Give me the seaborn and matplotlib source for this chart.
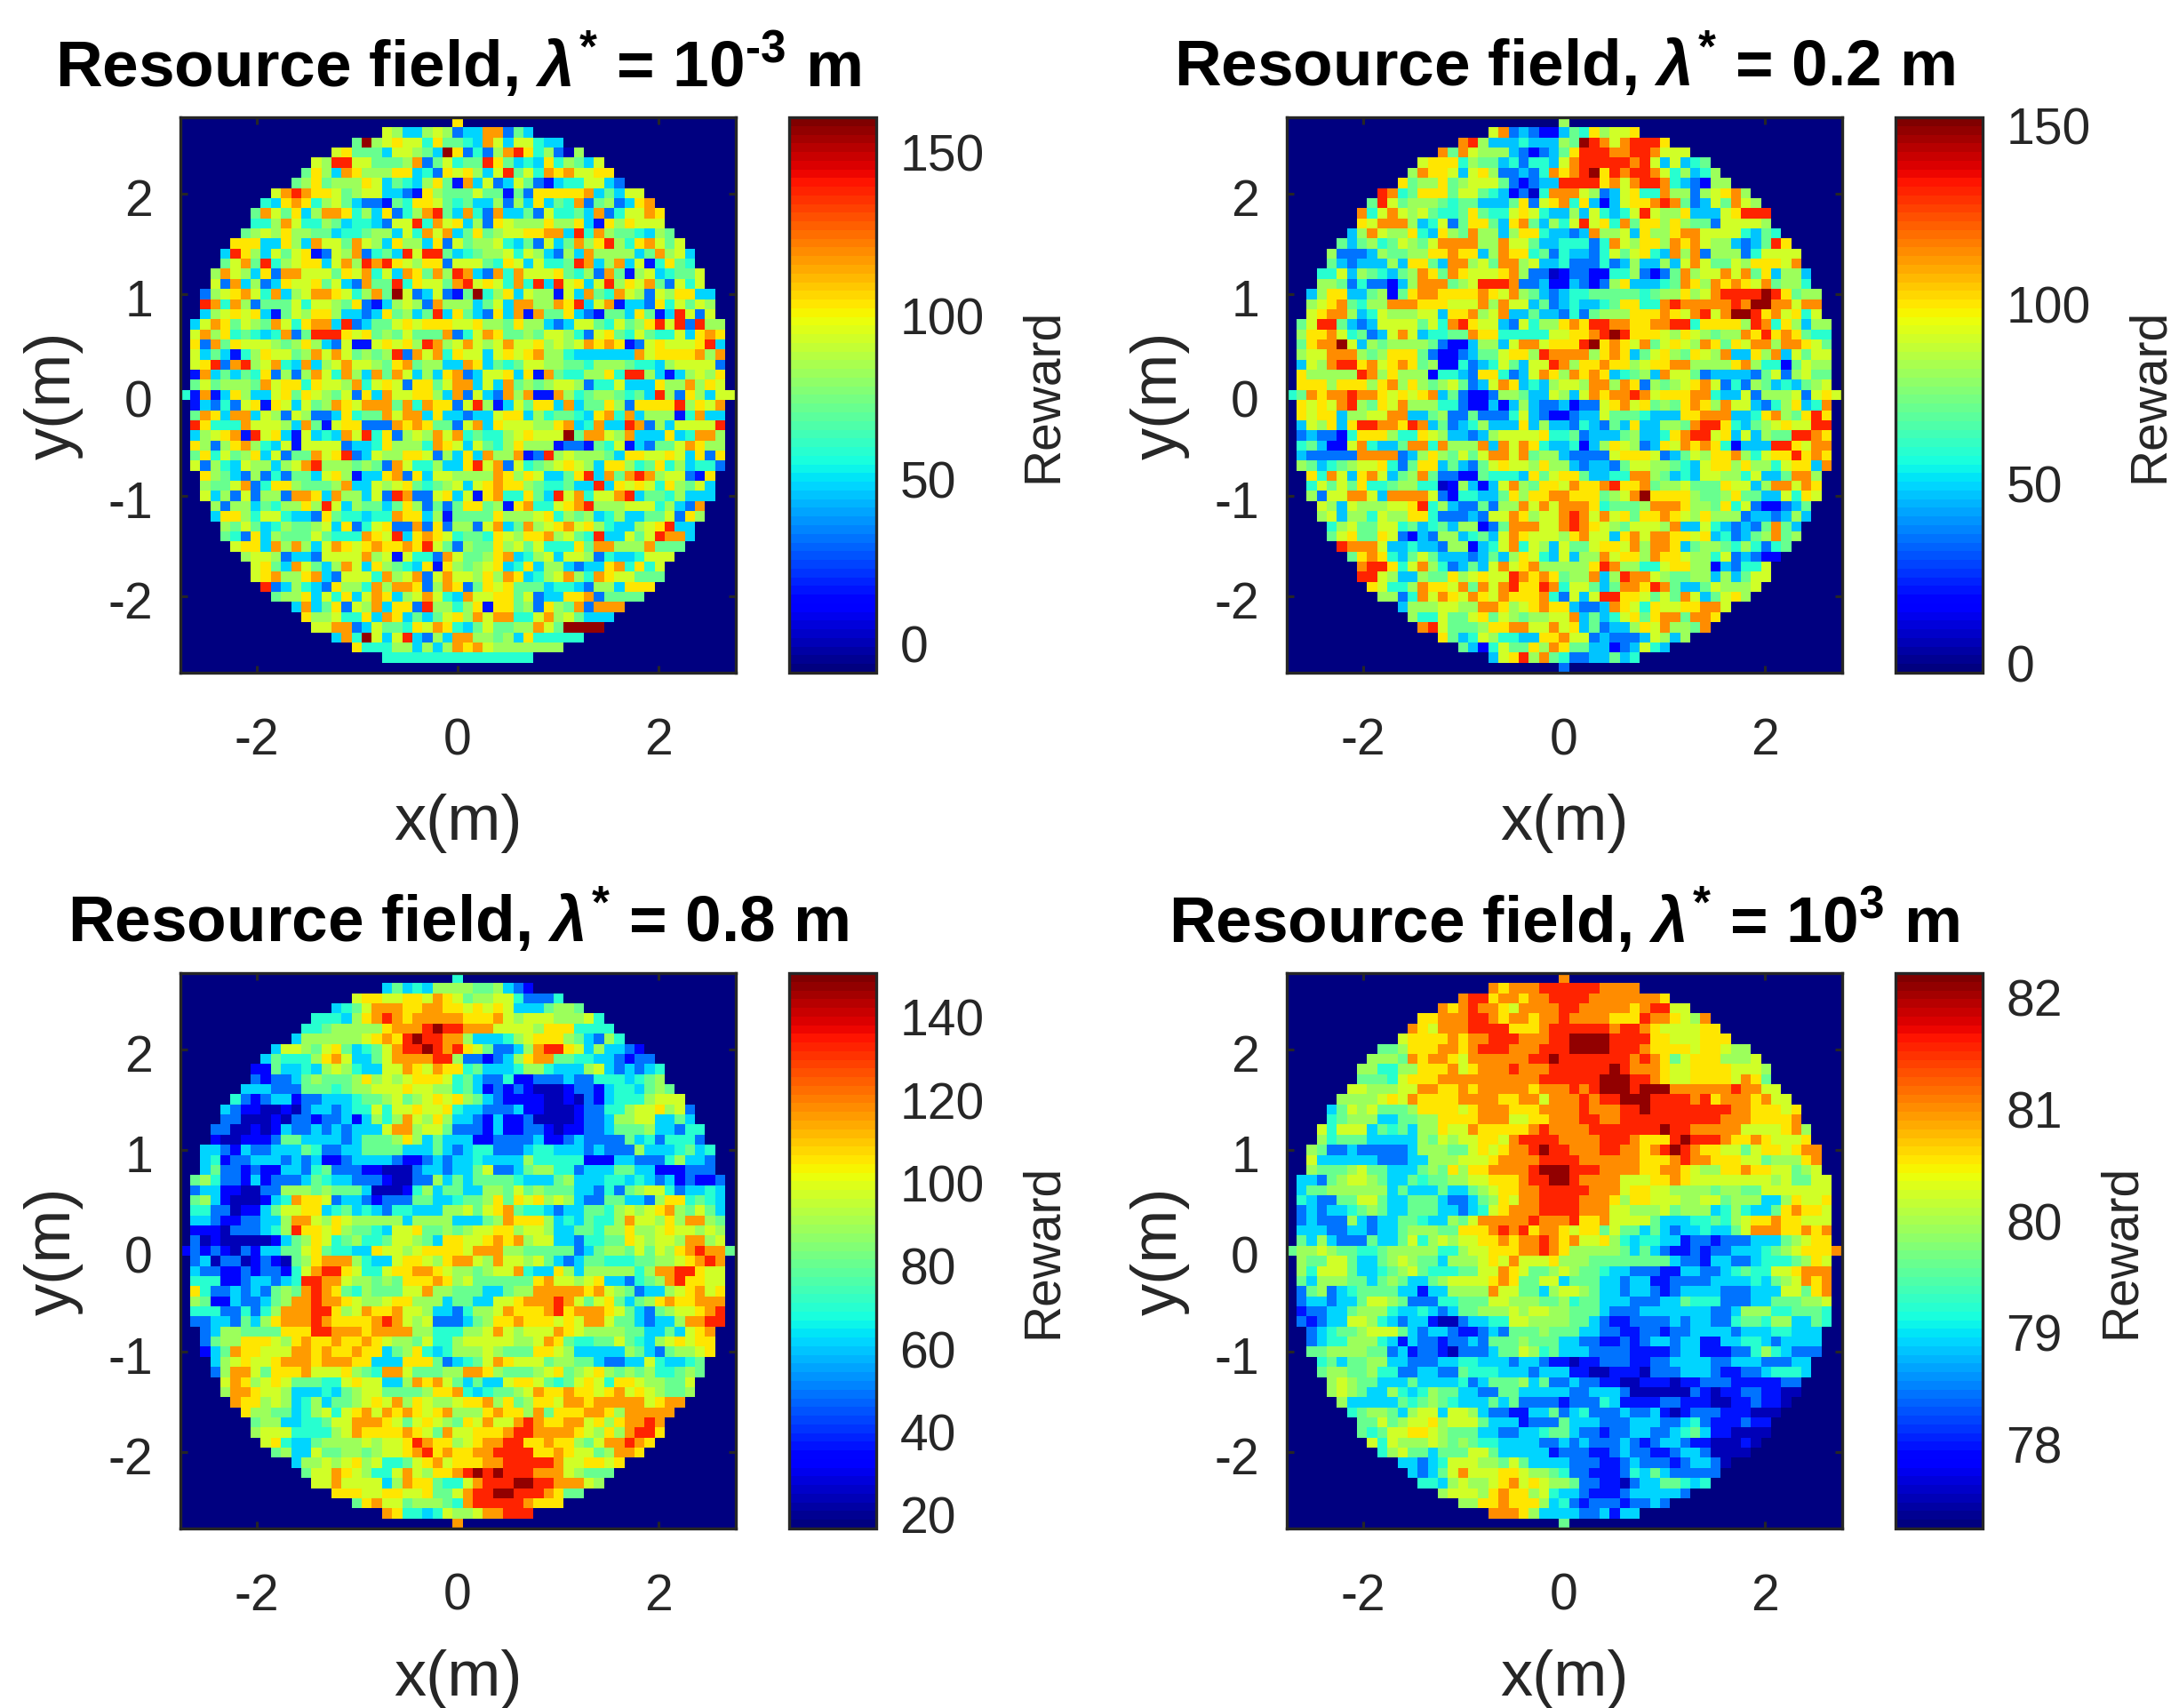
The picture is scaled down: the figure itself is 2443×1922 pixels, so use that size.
# Resource field maps for four correlation lengths, 2x2 heatmaps
import numpy as np
import matplotlib
matplotlib.use("Agg")
import matplotlib.pyplot as plt
from matplotlib.transforms import ScaledTranslation
import seaborn as sns

sns.set_theme(style="white")
plt.rcParams["font.family"] = ["Liberation Sans", "DejaVu Sans"]
plt.rcParams["mathtext.fontset"] = "custom"
plt.rcParams["mathtext.rm"] = "Liberation Sans:bold"
plt.rcParams["mathtext.it"] = "Liberation Sans:italic:bold"
plt.rcParams["mathtext.bf"] = "Liberation Sans:bold"

# The character picks an entry in the level list of that panel.
level_chars = "0123456789ab"

rows_a = [
"8",
"763367623399253",
"5b678774855439737743 3",
"7855537765 3b82 4 2 6 9 a 8 4 6 2 0 6",
"76aa7755569257455a85343 8 4 6 5 3 7 8 6",
"586398666883 4 2 8 7 8 6 3 7 a 5 7 4 9 8 9 7 7 8 8 6 4 5",
"5685666873543 6 8 5 1 9 3 7 2 3 7 5 2 1 3 4 4 7 7 3 2 4 3",
"79a98875 6 7 7 3 3 2 1 8 6 5 5 5 7 5 5 1 5 2 8 8 8 8 8 9 3 5 3 7 7 7 4 4 8",
"4 3 8 9 8 4 6 7 5 3 2 2 1 5 4 8 8 7 5 4 5 3 3 6 2 6 3 8 3 5 4 9 2 5 6 2 3 8 9 6",
"5 9 7 5 8 3 6 9 9 8 4 6 3 8 2 4 6 9 a 5 3 9 4 2 9 3 3 5 2 7 4 4 5 3 9 2 4 7 7 9 8 5 6 2",
"4 4 6 9 7 4 4 6 5 3 4 4 3 2 7 7 a 4 9 7 8 3 6 2 8 7 6 6 6 8 6 6 8 3 1 8 6 8 7 7 7",
"5 6 7 6 8 6 6 5 5 3 4 4 5 6 6 3 7 4 9 7 9 3 5 8 5 6 7 7 8 8 9 9 3 a 4 9 6 5 5 4 3 6 5",
"8 8 8 3 3 8 6 3 9 7 7 5 9 7 6 3 8 6 6 3 8 2 7 5 6 6 7 4 3 5 2 7 3 5 9 6 8 a 6 4 8 9 7 5 7",
"3 a 8 6 3 7 5 7 8 1 2 7 6 9 2 4 5 3 a 7 a a 5 3 4 5 6 6 7 4 7 6 3 2 6 3 9 6 6 6 6 3 5 9 6 7 3",
"5 7 9 5 a 4 6 7 8 8 3 7 9 6 a 9 a 8 7 6 8 8 2 7 7 7 5 4 8 7 3 7 4 4 5 a 9 3 6 9 3 7 1 4 8 5 4",
"6 9 7 6 3 8 2 9 9 7 7 7 5 8 7 9 4 7 3 9 8 5 9 6 a 9 3 2 9 4 9 7 7 7 8 5 4 6 2 9 5 1 6 7 3 4 5 5 7",
"7 2 9 3 6 2 3 8 7 7 8 5 7 3 2 9 5 5 a 4 8 7 7 5 9 a 7 8 7 4 9 4 a 3 a 7 8 3 7 a 6 8 7 9 5 2 7 4 7",
"2 6 7 8 9 7 4 9 3 6 7 9 9 8 7 4 6 9 5 b 7 2 3 7 2 1 5 b 4 6 8 3 7 6 6 1 7 3 9 5 4 9 7 6 2 7 6 8 8 3 3",
"a 9 4 9 6 2 5 5 5 7 4 7 7 6 5 8 2 1 3 6 7 6 2 9 6 6 6 3 5 7 3 9 9 6 6 9 8 a 3 7 9 1 3 3 2 8 4 7 5 7 6",
"3 6 7 8 7 8 3 1 5 7 6 8 8 6 3 3 2 3 8 5 6 3 5 a 3 8 5 3 2 8 3 9 1 9 5 5 8 3 2 1 5 5 3 8 5 1 3 a 7 2 7",
"3 7 9 8 5 7 6 5 9 7 4 8 9 9 3 a 2 3 5 5 7 8 7 8 8 8 7 7 8 6 6 5 8 6 6 3 2 3 7 7 5 4 7 5 6 8 a 7 a 2 a 6 6",
"7 9 6 8 4 5 4 3 4 9 2 5 a a a 8 7 8 5 6 5 7 5 5 5 9 2 4 7 9 8 5 5 6 5 7 7 6 4 2 7 8 5 4 7 5 4 4 7 3 8 9 8",
"8 2 9 5 8 7 7 7 6 5 6 8 6 3 2 7 1 1 7 8 7 8 6 a 9 6 7 9 7 6 7 9 7 7 8 6 7 6 7 9 8 9 8 1 2 7 8 7 7 7 8 a 3",
"7 3 5 3 1 4 6 8 7 7 5 6 9 7 9 7 5 6 5 6 a 2 9 7 9 4 8 7 7 3 7 8 7 8 9 6 6 4 3 3 3 3 3 3 9 7 8 8 8 8 9 6 9",
"7 8 a 2 9 a 6 7 9 4 3 9 3 6 7 9 7 7 6 5 8 9 5 6 6 3 3 9 8 3 5 4 5 7 7 6 6 5 5 4 6 6 6 5 4 4 3 6 7 7 7 7 2",
"1 9 3 5 3 5 4 8 2 6 2 6 9 7 4 9 6 3 9 5 9 7 3 6 3 8 9 2 3 7 7 8 3 8 1 9 5 4 4 6 6 8 4 a a 6 3 1 3 6 7 6 8",
"5 7 5 6 6 6 5 9 7 8 8 4 8 7 7 6 9 4 7 8 7 2 8 8 5 7 9 9 3 7 3 9 5 6 5 6 7 7 6 2 4 4 7 3 3 3 8 6 6 9 6 8 7",
"4 1 9 1 3 8 6 3 3 7 8 5 8 7 6 5 7 2 8 3 9 7 7 8 8 6 3 9 2 7 3 2 9 6 9 1 1 9 6 4 5 6 6 5 4 5 3 a 6 2 8 6 3 7",
"1 3 2 4 2 7 8 1 8 7 3 7 5 6 9 8 7 9 9 9 5 9 4 9 8 8 2 7 a 6 1 3 7 5 8 8 3 9 3 5 5 8 6 2 8 8 8 8 a 6 8 7 9 8 7",
"5 9 8 3 9 9 3 7 6 2 7 6 2 2 3 8 4 5 5 9 7 9 9 3 8 3 3 2 3 3 7 8 8 3 6 4 5 5 4 3 8 9 4 9 3 6 6 6 1 4 9 3 3",
"a 8 4 4 4 9 7 7 7 6 3 9 5 1 7 8 8 2 2 2 9 8 9 8 5 5 2 7 9 3 8 7 7 7 6 6 8 9 3 4 9 3 3 a 9 2 6 3 7 7 7 7 a",
"3 6 7 8 9 1 a 7 8 3 1 7 3 4 3 9 7 a 4 8 2 6 7 6 9 7 9 4 5 4 4 6 7 8 7 7 7 b 5 9 9 7 6 9 3 3 3 8 3 4 9 9 6",
"8 6 2 6 8 9 6 4 3 7 1 7 7 7 7 2 3 3 4 8 6 6 6 4 9 8 7 3 7 5 4 6 8 6 6 6 1 2 2 1 5 4 7 1 3 2 5 5 7 9 8 6 6 6 9",
"5 8 4 7 5 6 8 3 7 2 5 5 9 7 8 a 2 3 7 6 6 8 8 7 2 6 3 8 3 9 6 6 9 1 2 a 6 7 6 6 6 5 3 8 8 7 7 8 7 3 8 2 8",
"7 2 6 4 3 7 6 6 3 6 7 9 a 6 6 6 5 6 5 2 9 7 4 4 6 3 3 8 a 7 9 2 7 4 5 6 7 8 7 6 3 8 8 6 4 5 8 4 6 3 4 4 2",
"8 6 5 3 2 6 2 4 2 5 5 3 7 8 6 1 3 3 8 9 2 8 3 7 7 6 6 6 6 9 8 6 8 7 3 3 5 8 a 3 9 5 9 a 9 6 7 7 2 1 8 9 a 3",
"6 5 5 7 9 2 4 8 8 6 5 5 5 6 9 3 3 7 6 7 8 5 4 5 6 7 3 7 8 9 8 8 6 5 4 4 5 3 3 a 3 8 7 8 7 4 8 6 5 7 3",
"7 3 6 2 7 2 6 6 2 9 9 8 3 9 6 6 3 7 2 a 9 2 2 7 8 3 7 1 8 9 4 4 8 5 3 a 7 9 4 7 7 9 a 3 5 5 4 6 3",
"6 2 6 6 3 5 4 6 6 8 6 a 7 3 6 5 5 3 5 8 6 2 5 2 5 8 8 5 6 1 8 9 4 4 7 8 9 a 6 6 6 7 7 7 4 6 3 2 9 8 3",
"3 8 8 6 4 7 7 4 3 3 2 8 5 4 4 3 4 4 9 8 8 3 6 1 5 5 5 5 8 6 6 6 7 8 4 6 5 6 3 4 6 3 3 5 5 7 2 8 6 8 5",
"6 5 7 5 3 4 6 5 5 6 7 3 8 2 4 7 8 2 2 9 2 8 2 6 6 2 7 9 3 5 9 6 7 8 9 7 8 6 4 3 3 6 7 8 a 3 3",
"5 4 2 8 3 6 5 5 5 7 5 4 4 4 9 8 7 a 3 8 9 8 7 4 5 5 4 8 7 6 8 8 9 6 7 5 4 a 3 3 7 5 7 a 9 9 3",
"7 8 8 3 9 6 9 6 3 7 9 8 7 8 9 8 8 9 8 a 7 5 2 6 5 5 8 6 7 5 7 4 4 4 8 5 9 9 6 6 6 9 5",
"6 7 7 6 2 3 3 2 7 7 7 7 9 6 7 1 7 4 4 2 9 7 5 5 6 8 9 3 4 6 7 3 7 7 6 2 4 3 3 4 7",
"7 8 5 3 9 7 5 3 6 9 7 3 8 6 5 4 3 8 1 8 6 5 6 7 8 3 4 8 3 6 6 3 2 3 3 8 9 4 8 4 7",
"7 8 9 6 6 8 9 3 2 7 7 7 4 9 6 7 9 2 7 9 7 7 6 8 6 9 8 3 4 6 7 9 6 4 9 8 7 7 5",
"a 2 3 6 4 3 2 8 6 6 4 9 6 9 9 8 2 6 9 8 2 5 8 7 8 5 5 5 3 4 4 3 2 6 6 3 8",
"5 6 6 8 3 7 4 8 3 7 9 8 3 6 7 9 7 4 3 9 7 7 8 8 5 7 2 3 3 8 8 9 2 5",
"3 9 3 5 8 2 7 6 9 3 8 8 2 a 6 6 4 6 8 1 8 8 5 6 2 8 6 5 9 2 9",
"8 6 6 7 4 4 8 3 9 8 3 5 3 5 7 8 6 9 7 9 9 4 4 7 9 6 7 5 3",
"7 7 9 9 2 3 7 5 5 4 8 7 9 8 4 3 5 7 5 5 6 6 9 7 5 b",
"3 9 4 b 7 3 7 a 3 2 6 3 9 9 6 6 5 6 3 8 4",
"8 4 4 4 6 6 3 6 3 6 9 8 9 7 6",
"4",
]

rows_b = [
"6",
"792321135486778",
"9a6333433365ba979aaa8",
"95976663212358aaa99aa97777",
"7 8 8 8 4 6 5 5 3 4 2 4 4 3 7 9 a a a a a 9 a 7 3 7 3 4 5 5 5",
"6 9 8 8 7 3 7 8 6 2 2 3 2 4 9 8 9 a b 8 a 9 a a 9 7 4 6 3 4 6 3",
"8 5 6 6 8 5 6 7 7 7 5 2 1 2 3 3 a a a a 8 9 7 9 a a 9 4 3 2 1 6 6 7",
"a 9 4 5 8 8 8 5 7 7 5 4 3 1 2 0 4 9 9 9 7 6 2 3 7 8 4 4 9 6 6 2 6 7 8 9 6",
"5 a 7 5 6 6 6 5 4 5 5 3 3 3 5 8 2 7 8 9 4 8 3 1 3 7 8 8 9 a 9 5 2 3 7 5 9 7 6",
"9 4 7 9 7 6 7 5 4 4 5 8 5 4 4 7 8 7 4 3 3 6 3 7 4 3 4 7 a 7 6 6 8 3 3 3 7 8 a a a",
"8 7 9 9 9 6 3 4 7 2 5 8 8 5 3 8 9 5 3 6 4 7 a 7 8 4 9 5 8 8 6 8 6 5 5 2 7 7 7 7 6 8",
"3 6 9 7 6 6 8 4 3 8 6 5 9 6 6 3 6 8 8 4 3 3 2 3 9 6 6 7 3 8 6 6 8 9 9 7 7 7 7 4 3 5 4",
"5 3 5 6 4 5 7 6 5 7 9 9 9 9 6 6 9 7 7 5 3 3 4 4 4 2 4 9 7 6 8 8 6 9 8 9 7 6 6 3 2 3 5 a 8",
"6 2 2 2 3 6 5 5 6 6 8 8 9 8 8 3 6 9 8 8 4 5 2 4 3 3 2 4 7 5 7 8 4 3 9 6 9 2 6 6 6 2 4 7 7 7 7",
"5 3 2 3 3 3 6 3 8 8 5 3 9 9 6 7 5 9 9 6 7 3 3 4 2 2 2 4 2 3 6 3 3 6 3 7 9 7 5 5 7 6 8 8 8 7 9",
"4 4 7 3 6 5 4 3 5 6 9 8 5 9 8 7 7 7 8 9 6 2 2 0 1 2 2 1 1 4 4 6 2 1 2 5 9 6 7 7 9 7 9 5 8 3 6 6 3",
"6 6 5 2 4 2 2 1 3 6 9 9 9 5 6 7 a a a 9 2 2 3 1 1 3 2 1 2 6 8 3 3 3 4 5 9 8 6 9 8 9 8 7 9 5 6 6 4",
"3 6 8 8 3 3 5 6 1 5 8 9 9 8 8 8 8 9 8 7 9 6 5 3 2 3 4 4 5 5 5 5 5 4 5 6 6 8 6 7 9 a a a a b a 8 5 6 6 6",
"6 7 8 9 5 4 6 6 9 9 9 8 8 8 7 7 7 9 6 9 7 7 3 5 2 3 4 3 3 4 5 8 8 4 4 9 a 9 9 9 9 9 a 9 b b 9 9 7 9 9 6",
"7 8 9 9 6 3 4 7 6 6 6 7 7 3 8 8 9 6 7 9 3 3 5 3 3 2 4 2 5 6 6 6 8 8 8 9 8 7 9 a 7 9 b b a 8 9 7 8 4 7",
"5 7 a a 5 3 2 3 7 7 7 7 5 7 4 9 a 8 7 7 3 2 7 4 6 6 8 9 8 a a 9 9 8 8 9 9 a a 4 8 8 8 8 6 a 9 4 8 6 3 6 6",
"6 8 8 9 7 4 5 2 3 7 9 7 3 4 4 5 5 9 8 8 4 4 4 4 4 7 7 8 8 9 a b a 8 8 8 7 6 8 7 6 5 6 6 9 8 a 8 9 8 5 4 4",
"5 8 9 9 b 7 3 6 5 6 6 6 6 5 2 1 1 3 6 6 3 7 9 9 7 8 8 8 a b 8 9 8 7 9 5 7 8 7 6 9 8 5 8 7 9 9 6 9 9 8 7 5",
"6 7 7 9 9 9 6 5 6 8 8 8 5 2 1 1 2 3 5 5 7 8 8 6 a 9 9 9 9 6 8 9 8 3 5 7 8 6 5 8 7 6 9 3 3 8 6 9 3 7 5 7",
"3 7 6 9 a a 8 9 7 8 9 8 5 6 1 1 4 2 3 4 7 5 3 7 7 a 9 6 8 8 9 8 8 6 7 8 8 9 9 6 6 6 6 8 9 6 4 4 1 5 7 6",
"8 6 6 6 6 6 a 9 6 8 6 6 6 1 4 4 3 2 8 8 4 2 3 7 9 8 6 9 8 9 8 3 4 5 6 3 9 7 7 5 2 3 3 3 3 2 5 7 2 6 7 5 5",
"8 8 8 6 8 8 8 6 8 9 6 8 6 5 6 7 5 2 3 7 9 8 3 4 3 6 7 7 6 9 9 6 9 8 2 6 5 6 7 8 9 7 2 4 2 6 5 3 4 3 5 6 7",
"4 5 9 8 9 9 a 9 9 8 7 8 7 8 9 3 5 2 1 1 2 6 6 5 3 3 7 6 3 7 9 8 9 9 a 9 7 8 8 8 9 9 4 3 3 7 2 6 6 6 7 2 7 8 7",
"8 7 8 7 9 a 6 5 8 7 9 6 6 6 4 4 2 1 1 3 1 3 6 3 2 2 3 1 2 2 7 8 9 7 8 5 6 5 8 9 8 6 9 7 7 3 2 4 6 8 3 4 9 8 8",
"8 7 8 8 3 6 6 7 7 9 9 3 3 5 6 2 2 5 2 2 2 4 7 3 2 1 1 2 3 3 7 5 5 5 4 3 3 3 8 8 9 9 9 3 3 4 8 9 6 5 8 a 8 8 9",
"3 7 6 8 3 8 a a 9 9 8 a 9 3 5 2 3 4 6 3 3 3 8 3 6 3 3 2 4 3 2 5 3 8 3 3 6 6 5 9 a a 8 4 3 5 6 7 8 7 7 a a 6 6",
"2 3 2 2 1 4 8 8 8 6 4 4 8 7 6 3 3 2 3 6 7 7 7 7 8 4 4 5 2 3 3 3 5 6 3 3 4 8 9 a a 7 8 3 7 3 6 5 5 a a 9 8",
"4 5 3 1 1 7 9 4 3 3 5 9 9 4 9 6 6 6 9 3 9 7 9 8 4 3 3 4 1 3 6 8 7 6 2 3 8 7 9 8 9 8 4 1 3 3 3 a a 8 7 9",
"3 2 2 2 2 2 9 9 9 9 2 3 6 8 6 5 7 5 7 9 9 7 9 5 6 6 3 2 2 2 2 7 8 8 8 7 2 3 5 7 6 8 8 9 6 4 7 8 8 a 8 9 8",
"6 5 3 4 5 6 7 7 8 4 2 5 8 8 3 5 3 2 5 7 8 7 7 6 8 6 6 3 2 3 3 2 5 7 7 6 6 5 4 3 7 8 8 6 8 6 6 4 7 8 8 3 9 a a 9",
"8 4 9 7 3 8 9 7 3 5 6 9 5 2 2 1 1 5 4 4 4 3 8 5 7 8 8 5 3 3 4 4 9 9 6 5 3 4 3 7 7 6 6 4 7 3 3 5 9 9 6 8 8 6",
"4 7 5 7 5 8 4 4 5 6 6 4 4 0 1 6 3 1 3 7 9 6 5 8 8 7 9 8 8 9 a 8 8 9 5 6 6 7 5 5 5 8 7 7 3 6 9 9 7 9 8 5",
"6 2 7 7 9 9 7 3 9 9 9 9 7 2 1 4 4 3 3 5 8 6 8 8 9 9 8 8 8 5 6 7 9 b 8 8 8 8 6 5 5 6 8 5 5 3 3 7 4 8 7 8",
"7 6 3 7 6 6 6 7 7 8 a 4 6 3 2 2 5 2 6 6 9 7 9 7 9 9 9 8 4 5 5 5 6 9 9 9 8 6 6 5 8 4 7 2 1 1 2 3 5 5 6",
"6 7 3 6 6 4 7 6 6 8 8 4 2 2 2 3 2 7 7 9 8 6 7 7 9 a 9 7 9 7 8 5 8 8 9 8 7 6 8 6 6 6 2 3 3 2 3 6 3",
"4 6 7 5 5 7 7 4 5 3 4 5 3 6 6 1 2 5 9 9 9 7 7 9 a 9 8 7 6 5 7 7 7 6 9 3 3 7 4 3 2 3 2 5 9 5 3",
"5 7 8 5 5 8 7 2 1 3 2 6 6 3 4 5 3 7 9 8 7 7 7 6 8 9 7 7 3 8 9 7 9 9 8 8 7 8 3 4 2 3 5 6 9 5 6",
"a 9 9 9 7 3 3 4 3 3 2 6 6 1 3 4 7 9 4 7 6 3 7 5 5 7 8 8 7 9 6 9 9 8 3 5 6 6 5 4 6 4 2 4 5",
"5 8 9 8 4 3 5 7 5 3 3 3 2 3 5 3 6 8 7 4 3 7 3 6 6 9 7 8 8 6 9 8 8 7 6 6 4 7 2 3 2 1 1",
"9 a a 8 4 7 9 6 4 2 3 5 3 7 9 7 8 9 6 6 6 6 6 8 a 9 6 6 4 4 7 8 8 6 6 1 3 2 4 4 7",
"a a 7 6 3 3 6 5 5 8 6 7 8 7 7 a 9 8 9 8 5 6 6 9 3 6 a 9 9 7 6 5 5 6 6 3 6 3 5 7 7 8",
"8 7 4 4 6 9 8 8 7 9 5 9 7 9 a 8 8 a 9 4 7 7 5 3 5 9 9 8 a 9 5 3 3 5 7 6 6 6 7",
"6 6 2 4 9 7 9 8 7 9 8 7 9 8 8 8 9 4 2 7 3 7 a a 8 8 7 5 7 5 9 7 3 5 7 8 6",
"3 6 6 6 7 7 6 6 9 9 8 6 7 8 9 8 8 3 2 2 3 9 8 7 4 8 7 7 8 8 9 9 7 6",
"6 4 4 7 5 5 7 8 5 7 6 5 6 6 7 7 9 3 5 3 4 7 8 5 8 9 9 5 9 9 8",
"9 a 7 5 5 5 6 8 8 9 9 7 7 9 7 8 3 5 2 3 3 6 8 7 9 6 6 5 9",
"8 5 3 4 7 6 4 4 3 3 8 8 9 7 7 2 3 2 2 2 3 7 6 3 6 6 8",
"5 3 1 4 7 5 5 8 6 9 8 5 5 3 3 1 2 3 7 4 3",
"3 7 8 a 6 9 5 4 2 2 3 3 5 3 4",
"2",
]

rows_c = [
"4",
"353436666556321",
"788778879875667742224",
"3457999889 9 8 8 7 8 7 8 7 3 3 3 5 6 6 5",
"4 4 4 3 6 8 9 a 9 8 9 9 9 9 9 8 8 8 9 7 6 7 7 7 6 6 6 7 4 7",
"4 4 5 6 6 6 6 6 8 9 9 9 a b a a 9 9 9 7 7 7 7 6 8 8 8 4 4 4 4 7 4",
"3 6 6 6 6 6 6 7 8 9 8 a b a a 9 9 6 3 3 3 4 6 7 8 8 8 6 5 3 2 6 4 3",
"3 7 7 6 5 7 8 5 3 4 5 7 9 a a b a 9 a 8 7 5 2 2 3 6 9 a a 8 7 3 6 3 3 2 1 1 3",
"3 5 4 4 4 6 8 9 7 3 3 5 7 9 9 9 9 a a 6 2 2 1 2 3 6 8 9 9 5 5 4 4 3 3 2 1 2 2 2",
"1 1 5 3 3 4 3 6 7 6 4 3 3 7 7 9 8 7 9 8 8 4 5 3 3 3 4 6 6 4 3 3 3 6 7 3 2 3 2 3 4",
"2 1 2 2 3 5 6 5 5 5 6 8 6 7 6 7 8 8 8 7 4 5 3 2 2 4 1 1 2 2 2 3 2 2 4 4 4 3 4 5 6",
"3 3 3 2 2 2 5 5 5 4 5 6 6 7 7 7 8 7 7 6 6 4 5 3 1 2 1 2 1 0 0 0 1 2 2 1 3 4 4 3 5 6 5 3 3",
"4 2 1 2 3 3 1 2 2 3 3 3 4 5 5 6 7 5 6 7 8 7 8 6 5 3 2 1 1 1 1 0 0 1 0 2 1 3 4 4 4 6 7 7 7 4 3 4",
"3 2 1 1 0 0 1 0 2 3 3 2 3 4 4 7 4 7 7 8 7 7 8 4 3 3 2 2 2 3 1 1 0 0 0 1 2 2 4 4 6 7 7 8 6 7 2 2 5 5",
"2 2 0 0 0 1 0 2 2 1 2 2 3 1 3 6 4 6 9 7 6 8 6 3 3 2 1 3 1 1 2 0 0 0 0 1 2 2 3 6 6 7 7 3 3 5 3 2 3 8",
"2 2 0 0 1 0 1 3 2 2 3 2 3 2 3 3 3 7 9 9 6 7 7 5 2 2 2 1 3 1 1 2 2 1 0 1 1 2 2 3 5 5 5 6 3 3 2 4 4 2 7 7",
"1 0 0 1 1 1 2 5 5 3 3 3 3 2 3 5 5 5 6 8 6 3 5 3 3 3 1 1 2 2 2 2 3 1 1 2 3 2 2 2 2 5 3 4 2 4 4 4 2 2 6 7",
"3 3 2 1 3 2 2 3 3 3 5 4 2 2 3 3 5 5 5 5 3 3 3 5 3 2 3 4 4 2 2 2 3 4 4 3 3 3 2 3 2 2 2 6 3 3 3 4 5 3 4 4 6 5",
"3 4 1 2 2 3 3 3 2 3 2 3 1 1 2 3 3 3 3 2 1 1 2 3 2 3 3 4 3 3 3 3 6 4 4 4 4 4 1 1 1 3 3 2 2 2 4 6 3 3 2 4 3 3 3",
"3 5 2 2 1 2 1 1 3 3 2 4 5 2 2 2 1 1 0 0 0 2 3 3 2 3 3 5 7 2 2 3 5 6 6 4 4 2 3 3 3 5 5 3 3 1 1 1 2 2 2 2",
"5 6 4 2 2 1 3 1 2 2 2 3 5 4 3 3 2 2 2 1 0 0 2 2 6 3 5 3 5 5 5 5 4 3 3 3 5 6 3 3 3 4 4 3 4 3 2 3 1 2 1 1 2 3 3",
"2 3 3 1 1 0 0 2 2 6 6 6 5 6 5 5 5 3 0 0 0 1 4 6 3 5 5 3 3 6 6 5 7 5 6 5 5 5 3 3 2 4 2 5 6 7 7 4 2 3 3 4 3",
"5 6 3 1 0 0 0 1 3 4 9 8 8 7 2 3 3 2 1 2 2 2 5 5 3 3 4 5 5 6 8 5 8 7 8 6 7 6 3 2 2 5 5 3 3 2 6 8 8 4 5 4 3 4 4",
"4 4 2 2 0 1 1 3 5 7 7 8 8 3 4 5 3 4 3 2 4 4 3 3 3 6 6 7 5 7 8 9 5 4 4 3 2 3 3 5 5 4 6 7 6 7 8 9 6 5 7 5 3 4 5",
"3 3 2 1 1 2 2 3 3 6 9 9 7 6 8 7 6 6 6 6 6 3 6 6 6 6 3 3 3 5 6 9 8 8 8 6 3 4 3 5 4 4 6 9 7 7 6 8 6 9 9 6 5 7",
"1 1 1 0 2 2 2 3 4 6 a 8 8 7 8 6 5 5 4 3 7 7 8 5 5 6 5 6 7 7 8 8 6 7 7 6 3 3 5 5 4 6 6 8 6 6 7 8 7 7 6 7 6",
"2 0 1 0 0 0 0 0 1 3 5 6 8 7 4 5 6 4 4 5 7 7 6 5 3 8 8 7 7 8 9 8 9 6 7 7 3 3 2 4 4 5 5 8 7 6 7 7 6 9 9 6 7 7 5",
"1 2 1 2 1 0 2 1 3 3 5 5 7 8 5 4 4 3 3 8 7 7 6 7 8 8 8 8 7 9 9 9 6 6 5 5 5 5 5 2 3 5 6 6 5 7 5 7 6 8 9 a 9 9 5",
"2 3 0 2 2 0 1 2 1 0 5 6 8 9 9 9 6 4 3 3 7 8 8 7 6 8 9 9 7 6 9 7 7 6 7 5 3 2 3 5 5 4 4 4 5 5 6 6 7 8 9 a 9 9 7",
"3 2 2 1 1 2 1 2 2 1 4 7 9 a a 8 7 4 4 7 8 8 9 9 8 7 6 6 5 6 7 7 9 4 3 3 8 6 3 6 6 6 6 6 4 6 9 9 a a 8 7 7",
"4 4 4 1 1 2 3 3 2 3 4 a a 9 9 7 6 6 5 6 5 8 8 8 9 8 6 7 5 5 5 5 5 5 8 9 7 7 6 7 8 3 3 2 4 5 6 9 a 8 8 7 7",
"8 4 2 2 3 2 3 2 5 6 5 9 a 9 8 5 4 6 5 5 5 7 7 9 6 6 5 5 5 3 3 5 6 6 9 9 9 9 9 8 9 7 6 5 2 3 3 6 7 8 9 7 8 8",
"6 5 1 1 3 2 2 3 5 6 9 9 a 9 9 8 7 6 6 7 8 8 6 6 6 3 5 5 3 3 7 7 8 9 9 9 a 9 7 5 7 8 5 3 5 6 8 9 8 8 9 9",
"4 4 4 2 2 4 2 4 6 9 9 9 a a 8 6 7 9 8 8 9 7 7 6 3 3 2 4 6 6 7 9 8 8 8 9 a 8 9 9 9 8 7 5 3 2 5 6 7 7 8 9 a 9",
"2 2 3 3 2 5 3 6 8 9 9 9 a 9 8 8 8 8 9 a 9 7 6 7 2 2 2 3 5 6 8 8 9 8 8 8 7 8 7 9 9 7 5 5 3 2 3 3 6 9 9 a",
"2 3 6 6 5 5 5 5 8 8 8 a a 9 9 9 8 9 9 9 9 6 6 4 4 4 6 6 7 9 7 6 7 7 7 9 8 7 6 6 6 6 5 5 3 3 5 3 7 8 9",
"2 5 6 6 8 8 8 7 6 8 9 8 8 9 8 8 9 8 7 6 6 5 7 4 4 6 7 7 7 7 7 6 6 7 9 8 5 4 4 5 5 7 5 4 3 6 7 8 7 8 8",
"1 3 5 9 8 8 7 7 7 9 9 8 9 8 8 9 8 8 3 5 6 8 4 3 4 6 6 6 7 6 5 5 5 8 8 7 6 3 3 3 3 3 6 5 3 2 5 6 6 7 8",
"3 6 7 8 7 7 8 9 9 9 8 9 9 9 8 8 3 3 3 8 8 8 5 2 3 4 5 7 9 8 7 7 7 5 6 6 5 5 3 2 2 3 3 7 4 3 3 4 5",
"2 6 9 9 7 5 8 8 8 9 7 7 7 8 6 5 4 9 9 7 5 5 5 6 6 9 9 8 6 5 5 5 6 7 8 5 6 7 8 6 5 6 5 6 4 4 5 6 5",
"7 9 8 6 7 8 7 5 5 5 4 4 7 8 7 7 3 3 6 9 8 9 7 5 3 5 3 3 7 8 8 7 5 4 5 7 8 7 4 8 8 7 6 6 5 5 7",
"6 9 9 8 7 7 6 3 3 3 4 3 5 6 7 7 5 5 5 5 6 8 8 9 4 3 4 5 5 6 7 9 8 8 9 8 8 7 8 9 7 8 7 6 5 5 6",
"9 8 8 6 7 6 3 4 6 3 5 5 6 7 8 7 9 6 8 7 6 6 7 8 8 9 6 8 5 6 8 8 7 9 9 8 9 9 9 9 9 7 8 9 9",
"8 6 6 5 5 3 4 6 7 4 7 8 9 7 9 8 9 8 7 8 9 6 6 6 8 9 8 8 6 9 5 8 8 8 9 9 8 6 9 9 9 9 9",
"5 6 6 3 3 4 4 5 7 7 9 9 9 8 7 5 7 8 7 6 5 8 7 9 7 7 9 a 9 8 8 9 9 7 8 6 8 9 9 a 9 8 9",
"6 7 7 7 4 4 4 4 6 7 9 8 8 8 8 9 8 7 5 9 7 7 8 8 8 9 a a 9 9 9 9 8 7 6 8 6 9 a a 8 a",
"7 8 4 3 3 5 6 6 6 6 7 6 7 7 8 a 9 8 8 6 7 8 9 9 a a 8 8 9 8 8 6 5 7 9 9 a 9 8",
"5 6 3 3 7 5 5 6 6 5 6 7 7 8 9 a 8 9 8 8 9 9 a a a a 8 8 9 8 7 7 5 6 9 9 8 9",
"3 6 6 7 6 7 8 6 7 4 4 5 7 8 9 7 8 8 8 9 9 a a a a a 9 7 7 8 8 7 8 8",
"5 7 7 9 8 7 6 4 4 7 9 7 6 8 8 9 a b a b a a a 9 9 9 7 6 5 5 5",
"7 7 9 7 7 7 7 3 6 9 8 8 5 4 4 7 9 a a a b b a a 9 9 9 7 6 5",
"8 8 8 7 7 8 8 7 7 8 5 5 7 9 a a b b a a a 9 8 5 5 6",
"5 8 9 7 7 5 6 6 6 5 4 9 a a a a a 9 8 8 8",
"9 8 4 4 3 4 7 6 6 7 9 9 a a a",
"9",
]

rows_d = [
"9",
"989 99 a a a a a a 9 9 9 9",
"9 a a 8 9 9 8 9 9 a a a a 9 9 9 9 9 9 9 8",
"9 8 9 a 9 9 8 7 9 9 9 9 a a 9 9 9 9 9 8 9 a a 7 7 5",
"8 8 9 9 9 a a 9 8 9 9 8 9 9 a 9 9 9 9 8 8 8 a 9 9 8 7 6 9",
"9 8 7 9 9 9 a a a a 8 8 8 9 a a a a a a 9 a a 9 8 7 7 7 7 8 8",
"7 8 8 8 8 9 8 9 9 a a a 9 9 9 a a b b b b a a a a 8 8 7 7 7 8 8 8",
"5 5 6 8 8 8 9 9 8 9 a a a 9 9 9 a a a b b b b a a a 9 8 8 8 8 7 8 8 7 6 6",
"6 6 6 5 9 8 9 9 8 7 9 9 9 9 9 9 a a b a a a a a a a 9 a 9 8 5 7 8 8 8 6 6 6 7",
"6 6 4 4 6 6 8 8 8 9 7 8 9 9 9 a 9 9 9 a a a a a a b a 9 9 9 8 7 7 8 8 8 8 7 7 7 6",
"5 5 5 4 7 8 8 8 9 9 9 9 9 9 9 9 9 9 a a a a a a b b b a a 9 8 7 7 8 8 8 8 7 9 8 5",
"7 7 6 6 6 7 7 9 9 8 8 9 8 9 9 9 9 9 8 9 9 9 a 9 a b b b a b b b 9 9 9 9 9 9 a 9 9 7 7",
"6 6 6 6 7 8 7 9 8 8 8 8 9 9 9 9 8 8 9 9 7 9 9 9 a 9 a a b b b a a a a 9 a 8 9 9 9 8 9 7 7",
"3 5 7 6 7 5 5 5 6 8 8 8 8 7 8 9 9 9 8 8 8 9 9 9 9 a 9 9 9 a a b a a a a a a a a 9 9 8 8 8 7 8",
"4 5 6 6 6 3 3 5 5 6 6 8 8 8 8 9 9 9 7 7 8 8 9 9 9 a a 9 9 a a a a a a a a a a 9 9 9 8 8 8 8 9",
"7 4 7 7 7 3 5 4 5 3 6 6 8 7 7 9 8 8 8 8 8 9 a 9 9 9 9 a a a a a a a b a a 9 9 9 9 9 7 7 7 7 8 9 6",
"6 4 5 5 5 3 3 3 3 3 6 5 7 6 7 7 8 8 7 9 a a a a 9 9 9 9 a a a 9 8 8 8 a b a a a 9 8 8 9 8 7 7 7 8",
"6 5 2 2 3 2 2 2 2 2 3 6 6 6 5 5 7 8 7 8 9 9 a b a a 9 9 9 a a 9 9 8 9 a b a 9 8 8 7 7 5 7 8 8 7 8 9 9",
"7 3 3 3 3 3 3 2 2 2 3 3 6 6 6 7 7 7 8 9 9 9 9 a a a a 9 9 9 9 9 9 8 8 8 9 a 9 9 8 8 8 7 7 5 6 6 6 8 9",
"6 5 5 5 6 7 5 5 3 3 3 5 6 5 8 6 8 8 9 9 9 9 a b b b a a a 9 9 9 9 8 8 9 9 8 7 6 6 8 8 9 8 8 7 7 5 6 7",
"3 3 2 5 6 7 7 6 5 3 3 5 4 5 5 6 6 7 7 8 8 8 9 a a b b a 9 9 9 9 7 7 7 8 8 9 8 7 7 7 7 7 7 7 7 6 7 5 5 7 7",
"3 5 5 6 6 6 6 6 6 3 5 3 3 3 5 3 3 5 6 7 8 8 9 9 a a a a a 9 9 9 7 8 8 7 7 6 6 6 6 5 6 6 5 5 7 7 7 7 7 7 7",
"4 3 2 2 5 5 7 7 5 3 3 5 5 5 3 2 2 3 5 6 8 7 9 9 a a a a 9 9 9 8 6 8 8 7 7 7 6 6 7 7 5 6 6 6 3 3 6 8 7 7 8 6",
"2 3 2 3 3 4 5 6 5 3 3 5 5 5 3 3 2 3 4 7 8 9 9 9 a a a a 9 9 9 7 7 6 6 6 7 5 6 6 6 3 4 6 4 3 3 5 8 9 8 8 7 6 6",
"2 3 2 2 2 6 3 2 3 3 5 5 4 3 3 6 5 7 9 9 9 9 9 a 9 9 9 a 8 8 9 7 7 7 7 5 3 3 3 4 4 5 4 6 7 8 8 9 8 8 7 7 7",
"3 3 3 2 2 3 3 2 3 3 5 6 6 6 5 5 8 8 8 9 a 9 a 8 9 9 8 7 8 8 5 7 5 5 3 5 3 2 3 3 4 3 3 5 7 9 9 9 8 8 9 8 9",
"5 3 6 3 2 2 2 5 3 3 5 7 4 6 7 6 7 7 8 8 9 8 9 9 a 9 8 9 7 7 8 6 4 3 4 4 3 3 1 2 2 1 2 2 2 3 3 3 5 6 7 8 8 7 9",
"5 6 6 7 6 5 5 4 4 5 6 6 6 6 6 4 4 6 7 7 8 8 8 9 9 a 9 8 6 6 6 6 6 5 3 5 3 2 1 1 2 1 2 2 3 3 3 4 5 6 7 8 8 8 9 9",
"6 5 5 7 7 5 3 3 5 6 7 6 5 5 3 6 6 6 7 8 7 9 7 7 7 8 6 6 6 5 5 5 5 5 5 5 5 3 2 2 1 3 3 2 2 3 4 4 4 5 6 8 7 8 8 9",
"6 4 7 7 7 5 3 3 4 5 6 7 5 4 4 4 5 5 7 7 9 8 7 5 5 6 7 6 5 5 4 3 3 2 2 2 1 1 3 3 2 2 3 4 5 4 4 7 7 8 9 9 9",
"5 3 6 6 6 5 5 3 5 6 5 3 3 5 6 7 7 7 7 8 9 8 5 5 7 7 3 5 5 5 3 3 2 3 3 1 1 2 2 2 2 3 3 3 3 4 3 5 6 7 9 8 9",
"2 5 6 2 3 4 5 5 5 5 3 3 1 3 3 6 6 6 6 9 7 7 5 5 3 6 7 7 6 5 3 3 2 3 3 2 1 2 3 3 3 3 2 2 2 3 3 3 7 7 5 8 9 9",
"2 3 3 2 3 3 5 7 7 6 5 2 2 2 4 4 5 5 5 7 7 6 6 6 5 5 6 4 5 5 3 3 3 2 2 2 3 3 5 4 4 4 2 2 2 3 3 5 5 5 6 6 7 7",
"1 2 2 3 3 5 6 6 6 4 3 3 4 3 2 3 5 5 6 6 6 7 6 7 7 6 6 5 5 5 3 2 2 2 3 3 3 3 3 3 3 2 2 3 6 6 6 4 4 5 5 5 4",
"2 1 2 3 3 7 7 6 4 3 2 3 3 1 0 0 2 3 3 4 4 7 7 6 6 6 6 5 5 3 2 1 1 2 2 2 2 3 2 3 3 2 2 4 5 5 4 6 6 3 3 5 4",
"2 3 4 5 5 6 7 7 7 5 3 2 3 3 2 1 1 2 3 2 5 5 5 6 5 5 5 3 3 2 2 1 1 2 2 1 2 2 3 3 3 3 2 3 3 3 4 4 3 3 3",
"2 3 4 4 6 6 6 4 3 1 3 2 2 1 2 2 3 2 5 5 5 6 5 5 5 3 3 2 2 1 1 2 1 2 3 3 2 3 3 1 1 3 3 4 4 3 2 3 3 3 3",
"5 5 6 6 6 6 5 5 2 3 1 2 2 1 0 2 2 2 3 5 5 7 6 4 5 3 3 3 2 2 2 2 1 1 1 1 2 3 3 1 1 1 2 2 4 6 4 3 2 2 2",
"4 5 3 5 5 6 6 3 3 2 2 2 3 3 4 4 3 3 3 2 3 3 2 1 1 0 1 1 2 2 2 1 1 2 2 3 3 3 3 2 2 3 3 3 2 2 2 3 3",
"5 6 6 5 5 6 4 4 2 2 3 3 2 2 5 4 4 4 3 3 3 2 3 3 3 1 1 0 0 1 1 1 0 2 2 2 3 3 3 2 1 1 2 2 3 4 4 4 3 2",
"6 7 6 5 5 3 3 3 5 3 3 3 3 4 2 3 5 5 5 6 3 5 2 2 3 2 2 1 1 0 0 1 1 1 0 1 1 2 2 2 1 1 1 1 1 2 2 1",
"6 7 6 5 3 3 6 4 3 4 6 5 5 3 3 2 2 5 5 3 3 3 3 3 2 2 3 3 3 2 0 0 0 0 0 0 2 1 0 1 1 2 2 1 1 0 0 2 1 0",
"6 3 3 3 3 3 5 4 5 6 5 4 3 3 3 5 3 5 2 2 2 2 1 2 2 2 4 3 1 1 1 1 2 2 1 1 1 0 0 1 1 2 1 1 0 0 0 1 0",
"4 5 6 6 5 3 6 7 7 3 7 7 6 3 2 2 1 1 3 3 5 2 3 4 2 2 2 3 2 2 3 1 0 1 2 2 2 1 1 1 0 0 0 0",
"5 5 7 5 6 7 7 8 6 7 7 7 5 3 3 3 1 2 2 2 5 3 3 3 2 2 2 3 3 3 2 2 3 4 2 1 1 1 2 1 1",
"5 4 5 7 7 8 8 7 6 5 5 5 3 3 2 2 3 3 4 5 5 3 2 2 1 2 2 3 3 2 2 3 4 5 3 1 1 0 0 0 0",
"7 4 7 6 6 6 7 6 5 6 5 4 4 3 3 3 3 2 2 3 2 3 2 2 2 3 2 1 2 3 3 2 1 1 0 0 0 1 0",
"4 6 7 5 5 3 5 5 5 7 7 5 3 3 3 3 3 1 2 2 2 1 1 2 3 2 2 1 1 2 3 3 2 0 0 0 0 0",
"3 3 2 3 4 7 7 7 6 6 5 7 5 3 3 3 3 2 2 2 1 1 2 3 2 2 2 1 2 3 3 2 0",
"3 2 3 5 7 9 7 7 7 8 8 7 6 6 5 4 2 2 1 1 1 2 4 3 5 3 2 2 2 2 2",
"4 4 3 6 7 6 6 7 8 9 7 8 7 6 6 5 2 2 1 1 0 2 3 3 5 5 4 3 4 1 1",
"6 7 7 7 6 8 9 8 8 6 7 4 3 3 2 1 1 1 2 3 3 3 3 3 2 3 1",
"6 6 8 8 9 8 8 8 6 3 4 2 1 2 2 2 1 2 2 3 2 3 3",
"9 9 9 8 6 3 3 3 3 2 2 3 1 3 3",
"5",
]

# half width of the disk on each row, top half
disk_half = [0, 7, 10, 12, 14, 15, 16, 18, 19, 20, 20, 21, 22, 23, 23, 24, 24,
             25, 25, 25, 26, 26, 26, 26, 26, 26, 26, 27]

# colour levels turned into reward values, one list for each panel
levels_a = [1, 15, 33, 47, 59, 71, 83, 93, 103, 118, 139, 156]
levels_b = [7, 19, 36, 48, 59, 70, 81, 90, 100, 114, 132, 148]
levels_c = [25, 35, 50, 61, 70, 80, 89, 97, 105, 117, 133, 147]
levels_d = [77.55, 77.95, 78.49, 78.89, 79.24, 79.59, 79.93, 80.23, 80.53, 80.98, 81.57, 82.07]

titles = [
    r"Resource field, $\lambda^{*}$ = 10$^{\text{-3}}$ m",
    r"Resource field, $\lambda^{*}$ = 0.2 m",
    r"Resource field, $\lambda^{*}$ = 0.8 m",
    r"Resource field, $\lambda^{*}$ = 10$^{3}$ m",
]
vmins = [-8.9, -2.7, 16.7, 77.25]
vmaxs = [160.6, 152.3, 150.7, 82.22]
cbar_ticks = [
    [0, 50, 100, 150],
    [0, 50, 100, 150],
    [20, 40, 60, 80, 100, 120, 140],
    [78, 79, 80, 81, 82],
]
x_ticks = [-2, 0, 2]
y_ticks = [2, 1, 0, -1, -2]
extent = 2.765
n_cells = 55


def build_field(rows, levels):
    field = np.full((n_cells, n_cells), np.nan)
    half = disk_half + disk_half[-2::-1]
    for i, row in enumerate(rows):
        row = row.replace(" ", "")
        h = half[i]
        width = 2 * h + 1
        row = row[:width].ljust(width, row[-1])
        for j, ch in enumerate(row):
            field[i, 27 - h + j] = levels[level_chars.index(ch)]
    return field


W, H = 2443, 1922
fig = plt.figure(figsize=(W / 100, H / 100), dpi=100)
dark = "#262626"
cmap = plt.get_cmap("jet", 64)

# pixel boxes: left, top of each panel and colour bar
ax_left = [202.5, 1447.5, 202.5, 1447.5]
ax_top = [132, 132, 1095, 1095]
cax_left = [888, 2133, 888, 2133]
ax_size = 625
cax_width = 98

panels = [(rows_a, levels_a), (rows_b, levels_b), (rows_c, levels_c), (rows_d, levels_d)]

for k, (rows, levels) in enumerate(panels):
    ax = fig.add_axes([ax_left[k] / W, 1 - (ax_top[k] + ax_size) / H, ax_size / W, ax_size / H])
    cax = fig.add_axes([cax_left[k] / W, 1 - (ax_top[k] + ax_size) / H, cax_width / W, ax_size / H])
    field = build_field(rows, levels)
    sns.heatmap(field, ax=ax, cbar_ax=cax, cmap=cmap, vmin=vmins[k], vmax=vmaxs[k],
                mask=np.isnan(field), square=False, xticklabels=False, yticklabels=False,
                cbar_kws={"ticks": cbar_ticks[k]})
    ax.set_facecolor(cmap(0))

    # heatmap axes count cells, so place the metre ticks in cell units
    ax.set_xticks([(v + extent) / (2 * extent) * n_cells for v in x_ticks])
    ax.set_xticklabels([str(v) for v in x_ticks])
    ax.set_yticks([(extent - v) / (2 * extent) * n_cells for v in y_ticks])
    ax.set_yticklabels([str(v) for v in y_ticks], rotation=0)
    ax.tick_params(direction="in", length=6, width=2.2, color=dark, labelcolor=dark,
                   labelsize=41, top=True, right=True, bottom=True, left=True)
    ax.tick_params(axis="x", pad=36)
    ax.tick_params(axis="y", pad=22)
    for lab in ax.get_yticklabels():
        lab.set_transform(lab.get_transform() + ScaledTranslation(0, -0.04, fig.dpi_scale_trans))
    ax.set_xlabel("x(m)", fontsize=52, color=dark, labelpad=23)
    ax.set_ylabel("y(m)", fontsize=52, color=dark, labelpad=20)
    ax.set_title(titles[k], fontsize=52.6, fontweight="bold", color="black", pad=25)
    for side in ax.spines.values():
        side.set_visible(True)
        side.set_color(dark)
        side.set_linewidth(2.4)

    cbar = ax.collections[0].colorbar
    cbar.set_label("Reward", fontsize=41, color=dark, labelpad=28)
    cbar.ax.tick_params(direction="in", length=8, width=2.2, color=dark, labelcolor=dark,
                        labelsize=41, right=True, left=False, pad=19)
    cbar.ax.yaxis.set_ticks_position("right")
    cbar.outline.set_visible(True)
    cbar.outline.set_edgecolor(dark)
    cbar.outline.set_linewidth(2.4)

fig.savefig("out.png", dpi=100, facecolor="white")
